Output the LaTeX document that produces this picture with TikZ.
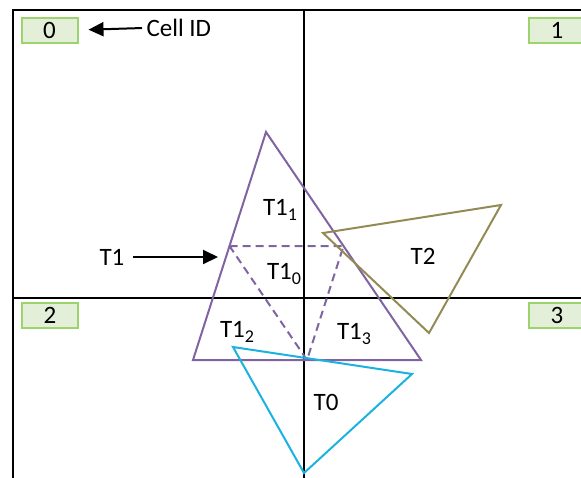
\documentclass[tikz,border=0pt]{standalone}
\usepackage{fontspec}
\setmainfont{Carlito}
\usetikzlibrary{arrows.meta}
\definecolor{cellgreen}{HTML}{9BD46B}
\definecolor{cellfill}{HTML}{E4EFD9}
\definecolor{tripurple}{HTML}{8064A2}
\definecolor{triolive}{HTML}{948A54}
\definecolor{tricyan}{HTML}{1CB2E0}
\newcommand{\subidx}[1]{\raisebox{-5pt}{\fontsize{18}{20}\selectfont #1}}
\begin{document}
\begin{tikzpicture}[x=1pt, y=-1pt, font=\fontsize{25}{29}\selectfont,
    cellbox/.style={draw=cellgreen, fill=cellfill, line width=2pt, minimum width=56pt, minimum height=25pt, inner sep=0pt},
    tri/.style={line width=2pt, line join=miter},
    pointer/.style={-{Triangle[length=15pt,width=14pt]}, line width=2pt}]
    \clip (0,0) rectangle (581,477);

    % Cell grid
    \draw[line width=2.2pt] (13,500) -- (13,10) -- (600,10);
    \draw[line width=2.2pt] (304,10) -- (304,500);
    \draw[line width=2.2pt] (13,298) -- (600,298);

    % Cell IDs
    \node[cellbox] (c0) at (49.5,30) {0};
    \node[cellbox] (c1) at (557,30) {1};
    \node[cellbox] (c2) at (50,315) {2};
    \node[cellbox] (c3) at (557,315) {3};
    \node[anchor=west] (cellid) at (143,28) {Cell ID};
    \draw[pointer, shorten <=1pt, shorten >=10pt] (cellid.west) -- (c0.east);

    % Triangle T1 and its children
    \coordinate (a) at (266,132);
    \coordinate (b) at (193,360);
    \coordinate (c) at (421,360);
    \coordinate (ab) at (229.5,246);
    \coordinate (ac) at (343.5,246);
    \coordinate (bc) at (307,360);
    \draw[tri, tripurple] (a) -- (b) -- (c) -- cycle;
    \draw[tri, tripurple, dash pattern=on 8pt off 5pt] (ab) -- (ac) -- (bc) -- cycle;
    \node (t11) at (280,210) {T1\subidx{1}};
    \node (t10) at (284,274) {T1\subidx{0}};
    \node (t12) at (237,332) {T1\subidx{2}};
    \node (t13) at (354,334) {T1\subidx{3}};

    \node (t1) at (112,257) {T1};
    \coordinate (t1tip) at (218,257);
    \draw[pointer, shorten <=5pt] (t1.east) -- (t1tip);

    % Triangle T2
    \coordinate (d) at (323,233);
    \coordinate (e) at (501,205);
    \coordinate (f) at (429,333);
    \draw[tri, triolive] (d) -- (e) -- (f) -- cycle;
    \node (t2) at (423,256) {T2};

    % Triangle T0
    \coordinate (g) at (233,347);
    \coordinate (h) at (412,374);
    \coordinate (k) at (304,473);
    \draw[tri, tricyan] (g) -- (h) -- (k) -- cycle;
    \node (t0) at (326,402) {T0};
\end{tikzpicture}
\end{document}
